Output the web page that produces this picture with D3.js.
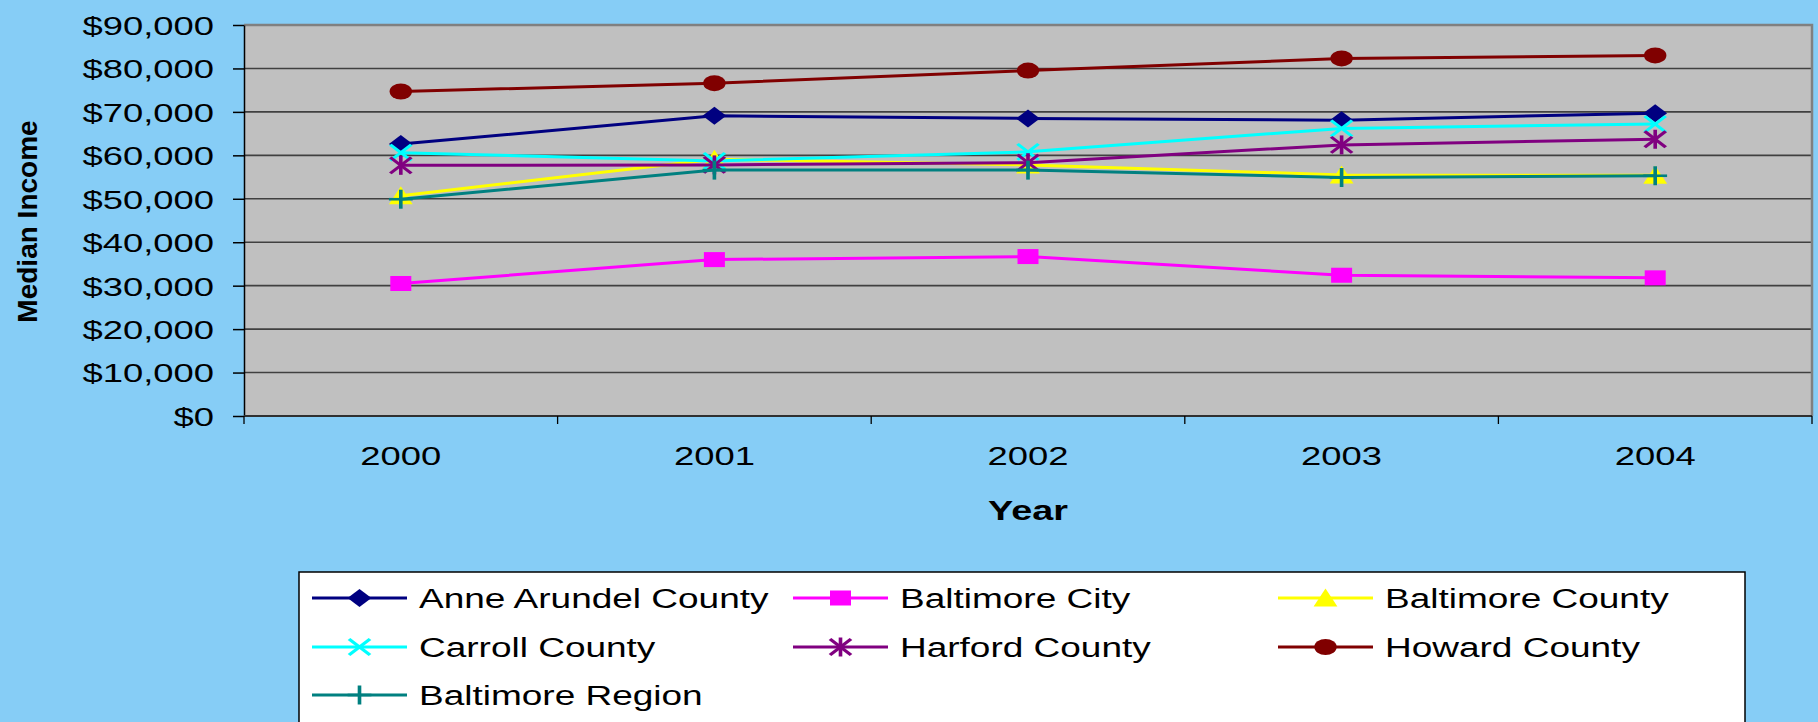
<!DOCTYPE html>
<html>
<head>
<meta charset="utf-8">
<script src="https://cdn.jsdelivr.net/npm/d3@7"></script>
<style>
    html, body { margin: 0; padding: 0; background: #86cdf6; }
    svg { display: block; font-family: "Liberation Sans", Arial, sans-serif; }
</style>
</head>
<body>
<script>
// data
const years = ["2000", "2001", "2002", "2003", "2004"];
const anneArundel = [62600, 69100, 68500, 68100, 69700];
const baltimoreCity = [30500, 36000, 36700, 32400, 31800];
const baltimoreCounty = [50700, 59100, 57800, 55500, 55400];
const carroll = [60600, 58700, 60800, 66200, 67200];
const harford = [57700, 57800, 58300, 62400, 63700];
const howard = [74700, 76600, 79500, 82300, 83000];
const region = [49900, 56600, 56600, 54900, 55300];
const yTicks = [0, 10000, 20000, 30000, 40000, 50000, 60000, 70000, 80000, 90000];

const seriesNames = ["Anne Arundel County", "Baltimore City", "Baltimore County", "Carroll County",
    "Harford County", "Howard County", "Baltimore Region"];
const seriesValues = [anneArundel, baltimoreCity, baltimoreCounty, carroll, harford, howard, region];
const seriesColors = ["#000080", "#ff00ff", "#ffff00", "#00ffff", "#800080", "#800000", "#008080"];
const seriesMarkers = ["diamond", "square", "triangle", "cross", "asterisk", "circle", "plus"];

const W = 1818, H = 722;
// the original picture is stretched sideways, text and markers too
const SX = 1.4;
const plot = { left: 244, right: 1812, top: 25, bottom: 416 };

let svg = d3.select("body").append("svg")
    .attr("width", W)
    .attr("height", H);

svg.append("rect").attr("width", W).attr("height", H).attr("fill", "#86cdf6");

let x = d3.scaleBand().domain(years).range([plot.left, plot.right]);
let y = d3.scaleLinear().domain([0, 90000]).range([plot.bottom, plot.top]);
let cx = d => x(d) + x.bandwidth() / 2;

// plot area
svg.append("rect")
    .attr("x", plot.left).attr("y", plot.top)
    .attr("width", plot.right - plot.left).attr("height", plot.bottom - plot.top)
    .attr("fill", "#c0c0c0");

svg.append("g").selectAll("line").data(yTicks.filter(d => d > 0 && d < 90000)).enter().append("line")
    .attr("x1", plot.left).attr("x2", plot.right)
    .attr("y1", d => y(d)).attr("y2", d => y(d))
    .attr("stroke", "#404040").attr("stroke-width", 1.6);

// frame: gray top and right
svg.append("path")
    .attr("d", `M${plot.left},${plot.top}H${plot.right}V${plot.bottom}`)
    .attr("fill", "none").attr("stroke", "#808080").attr("stroke-width", 2.5);

// y axis
let yAxis = svg.append("g")
    .attr("transform", `translate(${plot.left},0)`)
    .call(d3.axisLeft(y).tickValues(yTicks).tickSize(11).tickSizeOuter(0)
        .tickFormat(d => "$" + d3.format(",")(d)));
yAxis.select(".domain").attr("stroke", "#000").attr("stroke-width", 1.5);
yAxis.selectAll(".tick line").attr("stroke", "#000").attr("stroke-width", 1.5);
yAxis.selectAll(".tick text")
    .attr("x", -30 / SX)
    .attr("dy", "0.36em")
    .attr("transform", `scale(${SX},1)`)
    .attr("font-size", 26)
    .attr("font-family", "Liberation Sans, Arial, sans-serif")
    .attr("fill", "#000");

// x axis: ticks between the categories, labels in the middle
svg.append("line")
    .attr("x1", plot.left).attr("x2", plot.right)
    .attr("y1", plot.bottom).attr("y2", plot.bottom)
    .attr("stroke", "#303030").attr("stroke-width", 2);
let bounds = years.map(d => x(d)).concat([plot.right]);
svg.append("g").selectAll("line").data(bounds).enter().append("line")
    .attr("x1", d => d).attr("x2", d => d)
    .attr("y1", plot.bottom).attr("y2", plot.bottom + 8)
    .attr("stroke", "#000").attr("stroke-width", 1.3);
svg.append("g").selectAll("text").data(years).enter().append("text")
    .attr("transform", d => `translate(${cx(d)},465) scale(${SX},1)`)
    .attr("text-anchor", "middle")
    .attr("font-size", 26)
    .text(d => d);

// axis titles
svg.append("text")
    .attr("transform", `translate(${(plot.left + plot.right) / 2},520) scale(${SX},1)`)
    .attr("text-anchor", "middle")
    .attr("font-size", 27).attr("font-weight", "bold")
    .text("Year");
svg.append("text")
    .attr("transform", `translate(37,${(plot.top + plot.bottom) / 2 + 1}) rotate(-90)`)
    .attr("text-anchor", "middle")
    .attr("font-size", 28).attr("font-weight", "bold")
    .text("Median Income");

// marker drawing, centred at 0,0 before the sideways stretch
function drawMarker(g, type, color) {
    if (type === "diamond") {
        g.append("path").attr("d", "M0,-9L8.5,0L0,9L-8.5,0Z").attr("fill", color);
    } else if (type === "square") {
        g.append("rect").attr("x", -7.5).attr("y", -7.5).attr("width", 15).attr("height", 15).attr("fill", color);
    } else if (type === "triangle") {
        g.append("path").attr("d", "M0,-9.5L8.5,8.5L-8.5,8.5Z").attr("fill", color);
    } else if (type === "circle") {
        g.append("circle").attr("r", 8).attr("fill", color);
    } else {
        let segs = [];
        if (type === "cross" || type === "asterisk") segs.push([-7.5, -8, 7.5, 8], [-7.5, 8, 7.5, -8]);
        if (type === "asterisk") segs.push([0, -9.5, 0, 9.5]);
        if (type === "plus") segs.push([-8.5, 0, 8.5, 0], [0, -9.5, 0, 9.5]);
        g.selectAll("line").data(segs).enter().append("line")
            .attr("x1", d => d[0]).attr("y1", d => d[1])
            .attr("x2", d => d[2]).attr("y2", d => d[3])
            .attr("stroke", color).attr("stroke-width", 2.6);
    }
}

// series
let line = d3.line().x(d => cx(d.year)).y(d => y(d.value));
seriesNames.forEach((name, i) => {
    let pts = years.map((yr, j) => ({ year: yr, value: seriesValues[i][j] }));
    let g = svg.append("g").attr("class", "series");
    g.append("path").datum(pts)
        .attr("d", line)
        .attr("fill", "none")
        .attr("stroke", seriesColors[i])
        .attr("stroke-width", 3);
    g.selectAll("g.marker").data(pts).enter().append("g")
        .attr("class", "marker")
        .attr("transform", d => `translate(${cx(d.year)},${y(d.value)}) scale(${SX},1)`)
        .each(function () { drawMarker(d3.select(this), seriesMarkers[i], seriesColors[i]); });
});

// legend
let legend = svg.append("g");
legend.append("rect")
    .attr("x", 299).attr("y", 572)
    .attr("width", 1446).attr("height", 170)
    .attr("fill", "#fff").attr("stroke", "#000").attr("stroke-width", 1.5);
let colX = [312, 793, 1278];
let rowY = [598, 647, 695];
seriesNames.forEach((name, i) => {
    let lx = colX[i % 3], ly = rowY[Math.floor(i / 3)];
    let item = legend.append("g");
    item.append("line")
        .attr("x1", lx).attr("x2", lx + 95)
        .attr("y1", ly).attr("y2", ly)
        .attr("stroke", seriesColors[i]).attr("stroke-width", 3);
    let m = item.append("g").attr("transform", `translate(${lx + 47.5},${ly}) scale(${SX},1)`);
    drawMarker(m, seriesMarkers[i], seriesColors[i]);
    item.append("text")
        .attr("transform", `translate(${lx + 107},${ly}) scale(1.37,1)`)
        .attr("dy", "0.36em")
        .attr("font-size", 27)
        .text(name);
});
</script>
</body>
</html>
